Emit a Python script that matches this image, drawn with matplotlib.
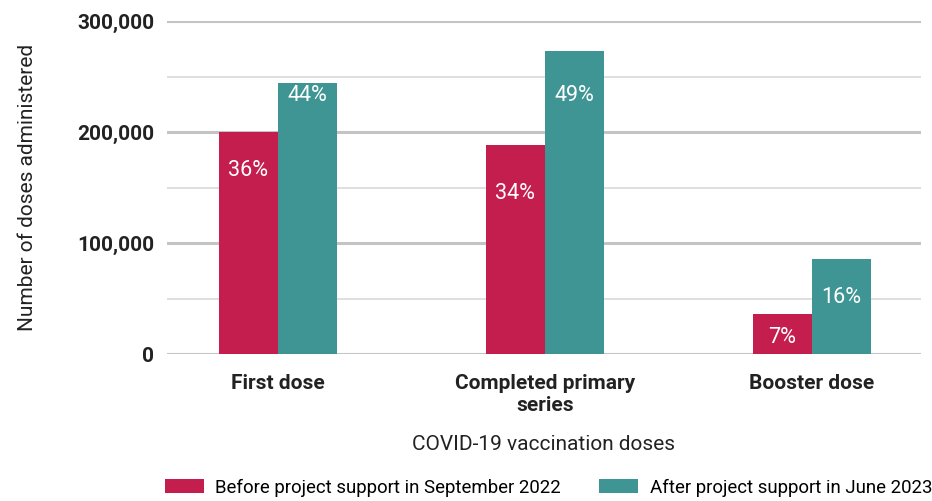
import matplotlib.pyplot as plt
import numpy as np

plt.rcParams['font.family'] = ['Roboto', 'DejaVu Sans']

categories = ['First dose', 'Completed primary\nseries', 'Booster dose']
before = [200000, 188000, 36000]
after = [244000, 273000, 86000]
before_pct = ['36%', '34%', '7%']
after_pct = ['44%', '49%', '16%']
before_lbl_y = [165000, 145000, 15000]
after_lbl_y = [233000, 233000, 51000]
series_names = ['Before project support in September 2022',
                'After project support in June 2023']

red = '#C41E4E'
teal = '#3E9594'

fig = plt.figure(figsize=(9.32, 5.01), dpi=100)
ax = fig.add_axes([0.179, 0.293, 0.809, 0.665])

x = np.arange(len(categories))
w = 0.221
b1 = ax.bar(x - w/2, before, w, color=red, label=series_names[0], zorder=3)
b2 = ax.bar(x + w/2, after, w, color=teal, label=series_names[1], zorder=3)

for i in range(len(x)):
    ax.text(x[i] - w/2, before_lbl_y[i], before_pct[i], ha='center', va='center',
            color='white', fontsize=15.5, zorder=4)
    ax.text(x[i] + w/2, after_lbl_y[i], after_pct[i], ha='center', va='center',
            color='white', fontsize=15.5, zorder=4)

ax.set_xlim(-0.4157, 2.408)
ax.set_ylim(0, 300000)
for v in [50000, 150000, 250000]:
    ax.axhline(v, color='#d9d9d9', lw=1.2, zorder=1)
for v in [0, 100000, 200000, 300000]:
    ax.axhline(v, color='#c4c4c4', lw=2.2, zorder=1)

ax.set_yticks([0, 100000, 200000, 300000])
ax.set_yticklabels(['0', '100,000', '200,000', '300,000'],
                   fontsize=15, fontweight='bold', color='#222222')
ax.set_xticks(x)
ax.set_xticklabels(categories, fontsize=15, fontweight='bold', color='#222222',
                   linespacing=1.25)
ax.tick_params(axis='y', length=0, pad=9)
ax.tick_params(axis='x', length=0, pad=14)
for s in ax.spines.values():
    s.set_visible(False)

ax.set_ylabel('Number of doses administered', fontsize=15, color='#222222', labelpad=29)
ax.set_xlabel('COVID-19 vaccination doses', fontsize=15, color='#222222', labelpad=14)

fig.legend(handles=[b1, b2], loc='center', bbox_to_anchor=(0.5885, 0.027), ncol=2,
           frameon=False, fontsize=13.4, handlelength=2.1, handleheight=0.78,
           columnspacing=2.07, handletextpad=0.6)

fig.savefig('out.png', dpi=100)
